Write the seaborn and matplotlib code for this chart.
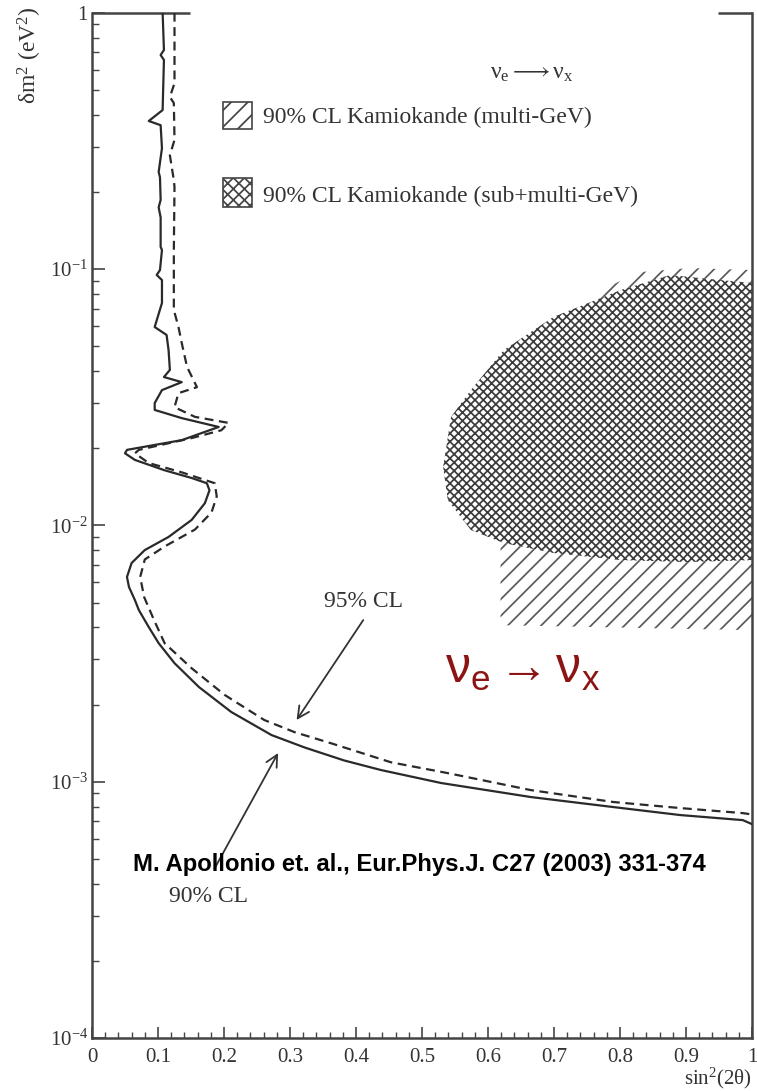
import numpy as np
import pandas as pd
import seaborn as sns
import matplotlib.pyplot as plt
from matplotlib.patches import Rectangle
from matplotlib.ticker import LogLocator, MultipleLocator, FuncFormatter, NullFormatter

# 90% CL exclusion contour (sin^2(2theta), delta m^2 in eV^2)
cl90_x = [0.107, 0.109, 0.104, 0.109, 0.107, 0.086, 0.104, 0.106, 0.101, 0.103,
          0.104, 0.101, 0.104, 0.104, 0.106, 0.103, 0.098, 0.106, 0.106, 0.095,
          0.113, 0.116, 0.118, 0.109, 0.136, 0.106, 0.095, 0.095, 0.136, 0.192,
          0.136, 0.053, 0.050, 0.065, 0.110, 0.151, 0.174, 0.178, 0.171, 0.151,
          0.116, 0.080, 0.060, 0.053, 0.056, 0.065, 0.071, 0.086, 0.101, 0.125,
          0.162, 0.211, 0.272, 0.322, 0.382, 0.438, 0.529, 0.665, 0.790, 0.891,
          0.986, 1.0]
cl90_dm2 = [1.0, 0.715, 0.684, 0.654, 0.417, 0.378, 0.364, 0.296, 0.239, 0.228,
            0.186, 0.174, 0.159, 0.122, 0.1186, 0.0991, 0.0948, 0.0906, 0.0737, 0.0594,
            0.0553, 0.0483, 0.0404, 0.0379, 0.0362, 0.0337, 0.0300, 0.0282, 0.0262, 0.0242,
            0.0215, 0.0197, 0.0191, 0.0180, 0.0164, 0.0153, 0.0146, 0.0137, 0.0122, 0.0105,
            0.00901, 0.00801, 0.00713, 0.00629, 0.00575, 0.00511, 0.00467, 0.00401, 0.00347, 0.00290,
            0.00234, 0.00187, 0.00152, 0.00136, 0.00121, 0.00111, 0.000988, 0.000871, 0.000796, 0.000741,
            0.000708, 0.000683]

# 95% CL exclusion contour
cl95_x = [0.125, 0.125, 0.118, 0.124, 0.125, 0.118, 0.124, 0.125, 0.124, 0.124,
          0.131, 0.136, 0.144, 0.159, 0.131, 0.125, 0.156, 0.207, 0.196, 0.151,
          0.071, 0.065, 0.086, 0.136, 0.186, 0.189, 0.181, 0.156, 0.110, 0.080,
          0.073, 0.079, 0.094, 0.110, 0.151, 0.201, 0.261, 0.307, 0.363, 0.453,
          0.539, 0.665, 0.790, 0.891, 0.986, 1.0]
cl95_dm2 = [1.0, 0.531, 0.469, 0.444, 0.319, 0.278, 0.222, 0.209, 0.1186, 0.0692,
            0.0594, 0.0514, 0.0415, 0.0346, 0.0328, 0.0289, 0.0265, 0.0251, 0.0235, 0.0219,
            0.0197, 0.0191, 0.0175, 0.0161, 0.0146, 0.01296, 0.01122, 0.00963, 0.00827, 0.00736,
            0.00629, 0.00525, 0.00427, 0.00347, 0.00277, 0.00218, 0.00174, 0.00156, 0.00141, 0.00119,
            0.00108, 0.000927, 0.000833, 0.000789, 0.000754, 0.000745]

# Kamiokande allowed regions (90% CL)
kam_multi_x = [0.619, 0.619, 1.0, 1.0, 0.906, 0.831, 0.770, 0.710]
kam_multi_dm2 = [0.0258, 0.00408, 0.00390, 0.0991, 0.1009, 0.0973, 0.0828, 0.0632]

kam_sub_x = [1.0, 0.952, 0.876, 0.801, 0.699, 0.624, 0.574, 0.544, 0.532, 0.539,
             0.574, 0.624, 0.699, 0.801, 0.902, 1.0]
kam_sub_dm2 = [0.0882, 0.0906, 0.0948, 0.0828, 0.0650, 0.0483, 0.0337, 0.0265, 0.0169, 0.01255,
               0.00959, 0.00853, 0.00780, 0.00732, 0.00719, 0.00732]

# Arrow anchors for the contour labels: (tail, head)
arrow95 = [(0.411, 0.00427), (0.310, 0.00174)]
arrow90 = [(0.186, 0.000460), (0.282, 0.001294)]
label95 = (0.411, 0.0048)
label90 = (0.177, 0.000339)

legend_labels = ["90% CL Kamiokande (multi-GeV)", "90% CL Kamiokande (sub+multi-GeV)"]

sns.set_theme(style="white")
plt.rcParams['font.family'] = ['Liberation Serif', 'DejaVu Serif']
plt.rcParams['mathtext.fontset'] = 'custom'
plt.rcParams['mathtext.rm'] = 'Liberation Serif'
plt.rcParams['mathtext.it'] = 'Liberation Serif:italic'
plt.rcParams['mathtext.sf'] = 'Liberation Sans'
plt.rcParams['hatch.linewidth'] = 1.25

fig = plt.figure(figsize=(7.57, 10.91), dpi=100)
ax = fig.add_axes([92 / 757, 53 / 1091, 660 / 757, 1025.3 / 1091])

ink = '#2a2a2a'

# allowed regions
ax.fill(kam_multi_x, kam_multi_dm2, facecolor='white', edgecolor='#5a5a5a',
        hatch='//', linewidth=0, zorder=1)
ax.fill(kam_sub_x, kam_sub_dm2, facecolor='white', edgecolor='#3c3c3c',
        hatch='xxxx', linewidth=0, zorder=2)

# exclusion contours
sns.lineplot(x=cl90_x, y=cl90_dm2, sort=False, estimator=None, ax=ax,
             color=ink, linewidth=1.6, zorder=3)
sns.lineplot(x=cl95_x, y=cl95_dm2, sort=False, estimator=None, ax=ax,
             color=ink, linewidth=1.6, linestyle=(0, (4, 2.5)), zorder=3)

ax.set_yscale('log')
ax.set_xlim(0, 1)
ax.set_ylim(1e-4, 1)

ax.yaxis.set_major_locator(LogLocator(base=10, numticks=10))
ax.yaxis.set_minor_locator(LogLocator(base=10, subs=np.arange(2, 10), numticks=40))
ax.yaxis.set_minor_formatter(NullFormatter())
ax.yaxis.set_major_formatter(FuncFormatter(
    lambda v, p: '1' if v >= 1 else r'$\mathrm{10^{%d}}$' % round(np.log10(v))))
ax.xaxis.set_major_locator(MultipleLocator(0.1))
ax.xaxis.set_minor_locator(MultipleLocator(0.02))
ax.xaxis.set_major_formatter(FuncFormatter(
    lambda v, p: '0' if abs(v) < 1e-9 else ('1' if abs(v - 1) < 1e-9 else f'{v:.1f}')))

ax.tick_params(which='both', direction='in', left=True, bottom=True, top=False,
               right=False, color='#444', labelcolor='#333')
ax.tick_params(axis='y', which='major', length=9.5, width=1.2, labelsize=15, pad=3)
ax.tick_params(axis='y', which='minor', length=5, width=1.0)
ax.tick_params(axis='x', which='major', length=8, width=1.2, labelsize=15, pad=7)
ax.tick_params(axis='x', which='minor', length=4, width=1.0)

for side in ['left', 'bottom', 'right']:
    ax.spines[side].set_linewidth(1.8)
    ax.spines[side].set_color('#444')
ax.spines['top'].set_visible(False)
for seg in ([0, 0.148], [0.948, 1.0]):
    ax.plot(seg, [1, 1], transform=ax.transAxes, color='#444', lw=1.8,
            clip_on=False, solid_capstyle='butt')

ax.text(-0.094, 1.0056, r'$\mathrm{\delta m^2\ (eV^2)}$', rotation=90, ha='center',
        va='top', transform=ax.transAxes, fontsize=17, color='#333')
ax.text(1.0, -0.039, r'$\mathrm{sin^2(2\theta)}$', ha='right', va='center',
        transform=ax.transAxes, fontsize=15, color='#333')

# legend block
ax.add_patch(Rectangle((0.1985, 0.8866), 0.0439, 0.0263, transform=ax.transAxes,
                       facecolor='white', edgecolor='#444', hatch='//', lw=1.2, zorder=4))
ax.add_patch(Rectangle((0.1985, 0.8105), 0.0439, 0.0283, transform=ax.transAxes,
                       facecolor='white', edgecolor='#444', hatch='xxx', lw=1.2, zorder=4))
ax.text(0.2591, 0.8924, legend_labels[0], transform=ax.transAxes, fontsize=17,
        va='baseline', color='#333')
ax.text(0.2591, 0.8154, legend_labels[1], transform=ax.transAxes, fontsize=17,
        va='baseline', color='#333')
ax.text(0.603, 0.9354, r'$\mathrm{\nu_e \longrightarrow \nu_x}$', transform=ax.transAxes,
        fontsize=17, va='baseline', color='#333')

# contour labels with arrows
arrow_style = dict(arrowstyle='->,head_length=0.7,head_width=0.35', lw=1.3,
                   color='#333', shrinkA=0, shrinkB=0)
ax.annotate('', xy=arrow95[1], xytext=arrow95[0], arrowprops=arrow_style, zorder=5)
ax.annotate('', xy=arrow90[1], xytext=arrow90[0], arrowprops=arrow_style, zorder=5)
ax.text(*label95, '95% CL', ha='center', va='baseline', fontsize=17, color='#333')
ax.text(*label90, '90% CL', ha='center', va='baseline', fontsize=17, color='#333')

ax.text(0.535, 0.3462, r'$\mathsf{\nu_e \rightarrow \nu_x}$', transform=ax.transAxes,
        fontsize=36, color='#8b1414', va='baseline', math_fontfamily='custom')
ax.text(0.0621, 0.1629, 'M. Apollonio et. al., Eur.Phys.J. C27 (2003) 331-374',
        transform=ax.transAxes, fontsize=17.2, fontweight='bold',
        family=['Liberation Sans', 'DejaVu Sans'], va='baseline', color='black', zorder=6)

fig.savefig('out.png', dpi=100, facecolor='white')
